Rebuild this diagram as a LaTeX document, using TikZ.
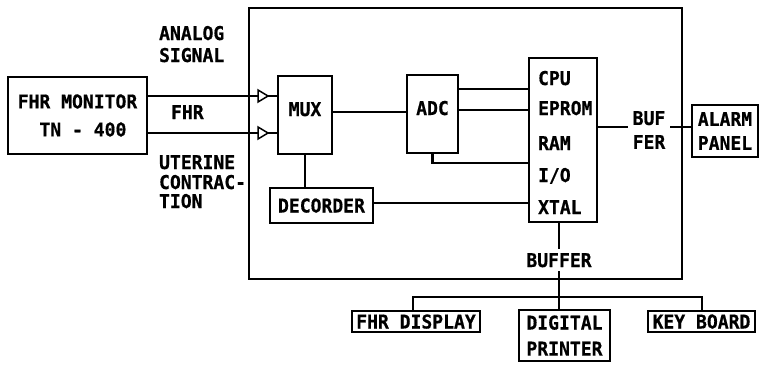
\documentclass[tikz,border=0pt]{standalone}
\usepackage{fontspec}
\setmainfont{DejaVu Sans Mono}[FakeStretch=0.95,BoldFeatures={FakeBold=0.6}]
\begin{document}
\begin{tikzpicture}[x=1pt,y=-1pt,line width=2.2pt,
  every node/.style={font=\fontsize{19}{24}\selectfont\bfseries,inner sep=0pt},
  boxline/.style={draw},
  single/.style={text height=14pt,text depth=0pt},
  upper/.style={text height=14pt,text depth=12pt},
  buftri/.style={line width=1.5pt,fill=white}]
\useasboundingbox (0,0) rectangle (759,364);
% boxes
\node[boxline,minimum width=433pt,minimum height=271pt] (outer) at (465.5,143.5) {};
\node[boxline,minimum width=139pt,minimum height=77pt,align=left] (mon) at (77.5,115.5) {FHR MONITOR\\[4pt]\ \ TN - 400};
\node[boxline,upper,minimum width=54pt,minimum height=78pt] (mux) at (305,115) {MUX};
\node[boxline,upper,minimum width=51pt,minimum height=78pt] (adc) at (432.5,114) {ADC};
\node[boxline,minimum width=68pt,minimum height=164pt] (cpu) at (563,140) {};
\node[boxline,single,minimum width=103pt,minimum height=35pt] (dec) at (321.5,205.5) {DECORDER};
\node[boxline,align=center,minimum width=66pt,minimum height=52pt] (alarm) at (725,131) {ALARM\\PANEL};
\node[boxline,single,minimum width=128pt,minimum height=21pt] (fhrd) at (416,321.5) {FHR DISPLAY};
\node[boxline,align=center,line width=2.8pt,minimum width=91pt,minimum height=51pt] (printer) at (564.5,335.5) {DIGITAL\\[2pt]PRINTER};
\node[boxline,single,minimum width=107pt,minimum height=21pt] (kb) at (701.5,321.5) {KEY BOARD};
% CPU block labels
\node[single,anchor=west] (lcpu) at (537,78) {CPU};
\node[single,anchor=west] (leprom) at (537,108) {EPROM};
\node[single,anchor=west] (lram) at (537,143) {RAM};
\node[single,anchor=west] (lio) at (537,175) {I/O};
\node[single,anchor=west] (lxtal) at (537,207) {XTAL};
% outside labels
\node[single,anchor=west] (lan) at (158,33) {ANALOG};
\node[single,anchor=west] (lsig) at (158,55) {SIGNAL};
\node[single,anchor=west] (lfhr) at (170,112) {FHR};
\node[single,anchor=west] (lut1) at (158,162) {UTERINE};
\node[single,anchor=west] (lut2) at (158,182) {CONTRAC-};
\node[single,anchor=west] (lut3) at (158,201) {TION};
\node[align=center,inner xsep=4pt] (buf) at (649,130) {BUF\\FER};
\node[single,inner ysep=3pt] (bufb) at (559,260) {BUFFER};
% inputs with buffers
\coordinate (t1) at (258,96);
\coordinate (t2) at (258,133);
\draw (mon.east |- t1) -- (mux.west |- t1);
\draw (mon.east |- t2) -- (mux.west |- t2);
\draw[buftri] (t1) ++(0,-6) -- ++(10,6) -- ++(-10,6) -- cycle;
\draw[buftri] (t2) ++(0,-6) -- ++(10,6) -- ++(-10,6) -- cycle;
% internal connections
\draw (mux.east |- 0,112) -- (adc.west |- 0,112);
\draw (adc.east |- 0,89) -- (cpu.west |- 0,89);
\draw (adc.east |- 0,110) -- (cpu.west |- 0,110);
\draw (adc.south) -- (adc.south |- 0,163) -- (cpu.west |- 0,163);
\draw (mux.south) -- (mux.south |- dec.north);
\draw (dec.east |- 0,203) -- (cpu.west |- 0,203);
\draw (cpu.east |- 0,127) -- (buf.west |- 0,127);
\draw (buf.east |- 0,127) -- (alarm.west |- 0,127);
% bottom bus
\coordinate (busL) at (413,297);
\coordinate (busR) at (702,297);
\draw (cpu.south -| bufb.north) -- (bufb.north);
\draw (bufb.south) -- (bufb.south |- printer.north);
\draw (busL |- fhrd.north) -- (busL) -- (busR) -- (busR |- kb.north);
\end{tikzpicture}
\end{document}
